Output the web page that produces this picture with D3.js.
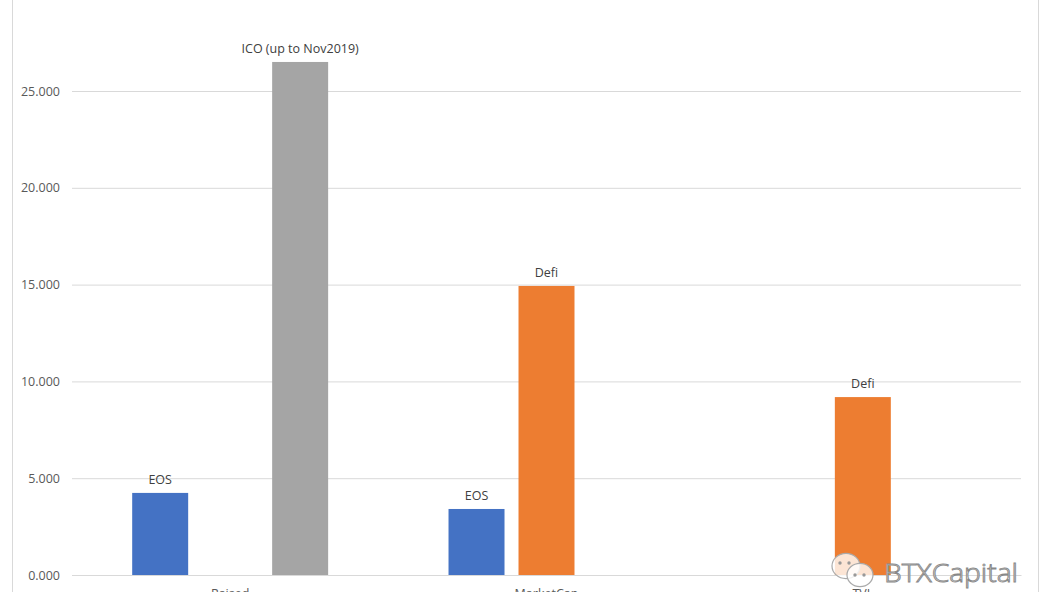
<!DOCTYPE html>
<html><head><meta charset="utf-8">
<script src="https://cdn.jsdelivr.net/npm/d3@7"></script>
<style>body{margin:0;background:#fff;overflow:hidden}svg{display:block}</style>
</head><body>
<svg id="c" width="1053" height="592"></svg>
<script>
const categories = ["Raised", "MarketCap", "TVL"];
const seriesNames = ["EOS", "Defi", "ICO (up to Nov2019)"];
const seriesColors = ["#4472C4", "#ED7D31", "#A5A5A5"];
const eosValues = [4.24, 3.41, null];
const defiValues = [null, 14.93, 9.19];
const icoValues = [26.5, null, null];
const yTicks = [0, 5, 10, 15, 20, 25, 30];

const seriesValues = [eosValues, defiValues, icoValues];
const svg = d3.select("#c");
const left = 72, right = 1021, bottom = 575;
const y = d3.scaleLinear().domain([0, 25]).range([bottom, 91]);
const x0 = d3.scaleBand().domain(categories).range([left, right]).padding(0);
const x1 = d3.scaleBand().domain(d3.range(3)).range([0, x0.bandwidth()])
  .paddingInner(0.2).paddingOuter(0.86);

// chart border
svg.append("line").attr("x1", 12.5).attr("x2", 12.5).attr("y1", 0).attr("y2", 592).attr("stroke", "#d9d9d9");
svg.append("line").attr("x1", 1038.5).attr("x2", 1038.5).attr("y1", 0).attr("y2", 592).attr("stroke", "#d9d9d9");

// grid
const yAxis = d3.axisLeft(y).tickValues(yTicks).tickSize(-(right - left)).tickPadding(12)
  .tickFormat(d => d3.format(".3f")(d));
const ga = svg.append("g").attr("transform", `translate(${left},0)`).call(yAxis);
ga.select(".domain").remove();
ga.selectAll(".tick line").attr("stroke", "#d9d9d9").attr("stroke-width", 1);
ga.selectAll(".tick text").attr("fill", "#595959").attr("font-family", "Open Sans, sans-serif").attr("font-size", 12.5);

// x axis labels
const xAxis = d3.axisBottom(x0).tickSize(0).tickPadding(14);
const gx = svg.append("g").attr("transform", `translate(0,${bottom})`).call(xAxis);
gx.select(".domain").attr("stroke", "#d9d9d9");
gx.selectAll(".tick text").attr("fill", "#595959").attr("font-family", "Open Sans, sans-serif").attr("font-size", 12.5);

// bars
const bars = [];
categories.forEach((c, ci) => seriesValues.forEach((vals, si) => {
  if (vals[ci] != null) bars.push({c, si, v: vals[ci]});
}));
svg.append("g").selectAll("rect").data(bars).join("rect")
  .attr("x", d => x0(d.c) + x1(d.si))
  .attr("width", x1.bandwidth())
  .attr("y", d => y(d.v))
  .attr("height", d => y(0) - y(d.v))
  .attr("fill", d => seriesColors[d.si]);
svg.append("g").selectAll("text").data(bars).join("text")
  .attr("x", d => x0(d.c) + x1(d.si) + x1.bandwidth() / 2)
  .attr("y", d => y(d.v) - 9)
  .attr("text-anchor", "middle")
  .attr("fill", "#404040")
  .attr("font-family", "Open Sans, sans-serif").attr("font-size", 12.5)
  .text(d => seriesNames[d.si]);

// watermark
const wm = svg.append("g");
function bubble(cx, cy, r) {
  wm.append("ellipse").attr("cx", cx).attr("cy", cy).attr("rx", r).attr("ry", r * 0.9)
    .attr("fill", "rgba(255,255,255,0.8)").attr("stroke", "#aaa").attr("stroke-width", 1.2);
}
bubble(846, 566, 14);
bubble(860, 575, 13);
[[840,563],[849,563],[855,575],[864,575]].forEach(p =>
  wm.append("circle").attr("cx", p[0]).attr("cy", p[1]).attr("r", 1.7).attr("fill", "#999"));
wm.append("text").attr("x", 884).attr("y", 582).attr("font-family", "Open Sans, sans-serif")
  .attr("font-size", 25).attr("font-weight", 300).attr("fill", "#fff").attr("stroke", "#888").attr("stroke-width", 0.9)
  .attr("textLength", 134).attr("lengthAdjust", "spacingAndGlyphs")
  .text("BTXCapital");
</script>
</body></html>
